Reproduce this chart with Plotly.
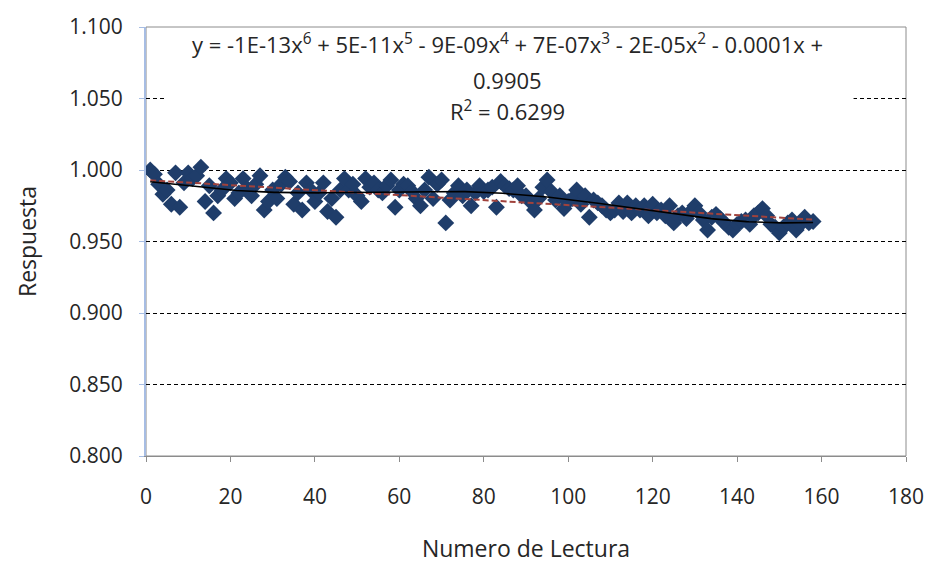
import numpy as np
import plotly.graph_objects as go

# ---- data ----
lectura = list(range(1, 159))
respuesta = [
    1.000, 0.997, 0.990, 0.983, 0.986, 0.976, 0.998, 0.974, 0.991, 0.998,
    0.994, 0.996, 1.002, 0.978, 0.989, 0.970, 0.982, 0.986, 0.994, 0.991,
    0.980, 0.984, 0.994, 0.987, 0.982, 0.990, 0.996, 0.972, 0.978, 0.986,
    0.980, 0.990, 0.995, 0.992, 0.976, 0.984, 0.972, 0.991, 0.986, 0.978,
    0.984, 0.991, 0.971, 0.980, 0.967, 0.986, 0.994, 0.986, 0.990, 0.982,
    0.978, 0.994, 0.988, 0.991, 0.986, 0.984, 0.989, 0.993, 0.974, 0.986,
    0.990, 0.989, 0.985, 0.980, 0.975, 0.986, 0.995, 0.980, 0.990, 0.993,
    0.963, 0.979, 0.984, 0.989, 0.982, 0.986, 0.975, 0.984, 0.989, 0.985,
    0.986, 0.988, 0.974, 0.992, 0.989, 0.987, 0.986, 0.989, 0.982, 0.982,
    0.978, 0.972, 0.980, 0.988, 0.993, 0.985, 0.979, 0.982, 0.973, 0.978,
    0.980, 0.986, 0.976, 0.982, 0.967, 0.979, 0.977, 0.975, 0.972, 0.970,
    0.972, 0.977, 0.971, 0.977, 0.970, 0.975, 0.972, 0.975, 0.968, 0.976,
    0.970, 0.972, 0.968, 0.975, 0.963, 0.968, 0.970, 0.966, 0.971, 0.975,
    0.970, 0.965, 0.958, 0.967, 0.969, 0.966, 0.963, 0.960, 0.958, 0.962,
    0.964, 0.965, 0.962, 0.968, 0.970, 0.973, 0.968, 0.962, 0.960, 0.956,
    0.960, 0.963, 0.965, 0.958, 0.962, 0.967, 0.963, 0.964,
]
y_ticks = [0.800, 0.850, 0.900, 0.950, 1.000, 1.050, 1.100]
x_ticks = [0, 20, 40, 60, 80, 100, 120, 140, 160, 180]
eq_lines = [
    "y = -1E-13x<sup>6</sup> + 5E-11x<sup>5</sup> - 9E-09x<sup>4</sup> + 7E-07x<sup>3</sup> - 2E-05x<sup>2</sup> - 0.0001x +",
    "0.9905",
    "R<sup>2</sup> = 0.6299",
]

x = np.array(lectura, dtype=float)
y = np.array(respuesta)
poly6 = np.polynomial.Polynomial.fit(x, y, 6)
lin = np.polynomial.Polynomial.fit(x, y, 1)
xs = np.linspace(x.min(), x.max(), 300)

FONT = "Open Sans"
TXT = "#262626"

fig = go.Figure()
fig.add_trace(go.Scatter(
    x=lectura, y=respuesta, mode="markers",
    marker=dict(symbol="diamond", size=13, color="#1F3D6A", line=dict(width=0)),
    showlegend=False, hoverinfo="x+y"))
fig.add_trace(go.Scatter(
    x=xs, y=lin(xs), mode="lines",
    line=dict(color="#A0423C", width=2, dash="6px,3px"),
    showlegend=False, hoverinfo="skip"))
fig.add_trace(go.Scatter(
    x=xs, y=poly6(xs), mode="lines",
    line=dict(color="black", width=1.6),
    showlegend=False, hoverinfo="skip"))

line_y = [0.962, 0.877, 0.806]
annotations = [
    dict(xref="paper", yref="paper", x=0.476, y=ly, xanchor="center", yanchor="middle",
         text=t, showarrow=False, align="center",
         font=dict(family=FONT, size=22, color=TXT))
    for t, ly in zip(eq_lines, line_y)
]

fig.update_layout(
    width=936, height=569,
    margin=dict(l=146, r=26, t=21, b=112),
    paper_bgcolor="white", plot_bgcolor="white",
    font=dict(family=FONT, size=21, color=TXT),
    xaxis=dict(
        range=[0, 180], tickvals=x_ticks, ticktext=[str(v) for v in x_ticks],
        showgrid=False, zeroline=False,
        showline=True, linecolor="#8C8C8C", linewidth=1,
        ticks="outside", ticklen=5, tickcolor="#8C8C8C",
        ticklabelstandoff=17,
        title=dict(text="Numero de Lectura", font=dict(size=23, color=TXT), standoff=31),
    ),
    yaxis=dict(
        range=[0.800, 1.100], tickvals=y_ticks, ticktext=[f"{v:.3f}" for v in y_ticks],
        showgrid=True, gridcolor="black", gridwidth=1, griddash="4px,3px",
        zeroline=False,
        showline=True, linecolor="#A7BDE3", linewidth=2,
        ticks="outside", ticklen=5, tickcolor="#A7BDE3",
        ticklabelstandoff=12,
        title=dict(text="Respuesta", font=dict(size=23, color=TXT), standoff=26),
    ),
    shapes=[
        dict(type="rect", xref="paper", yref="paper", x0=0, x1=1, y0=0, y1=1,
             line=dict(color="#8C8C8C", width=1), fillcolor="rgba(0,0,0,0)", layer="below"),
        dict(type="rect", xref="paper", yref="paper", x0=0.025, x1=0.931, y0=0.76, y1=0.985,
             line=dict(width=0), fillcolor="white", layer="above"),
    ],
    annotations=annotations,
)

fig.write_html("out.html")
